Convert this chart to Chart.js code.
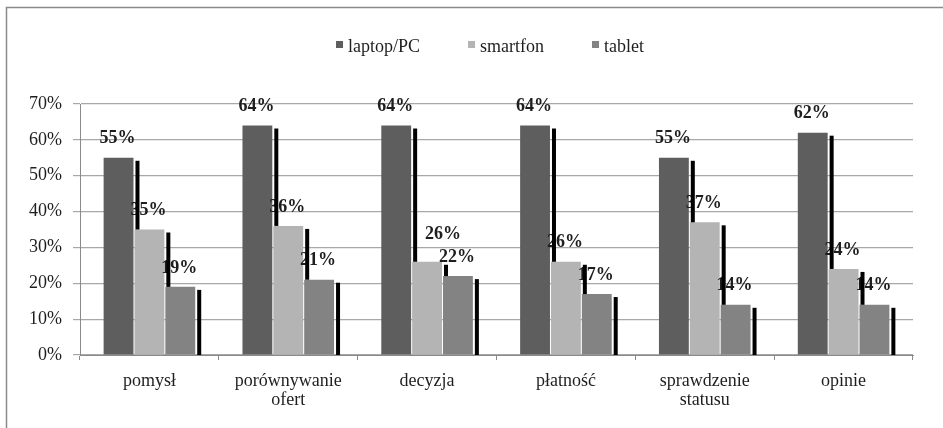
<!DOCTYPE html>
<html>
<head>
<meta charset="utf-8">
<script src="https://cdn.jsdelivr.net/npm/chart.js@4"></script>
<style>
  html, body { margin: 0; padding: 0; background: #fff; }
  #wrap { width: 943px; height: 428px; position: relative; }
</style>
</head>
<body>
<div id="wrap"><canvas id="c" width="943" height="428"></canvas></div>
<script>
const categories = ['pomysł', ['porównywanie', 'ofert'], 'decyzja', 'płatność', ['sprawdzenie', 'statusu'], 'opinie'];
const seriesNames = ['laptop/PC', 'smartfon', 'tablet'];
const laptopPC = [55, 64, 64, 64, 55, 62];
const smartfon = [35, 36, 26, 26, 37, 24];
const tablet = [19, 21, 22, 17, 14, 14];
const yTicks = [0, 10, 20, 30, 40, 50, 60, 70];

const colors = ['#5e5e5e', '#b4b4b4', '#838383'];
const SERIF = '"Liberation Serif", "Times New Roman", serif';
const TEXT = '#1e1e1e';

// small manual nudges of value labels (as in the original figure)
const labelNudge = { '1:2': { dx: 17, dy: -8 } };

const framePlugin = {
  id: 'frame',
  beforeDraw(chart) {
    const ctx = chart.ctx;
    ctx.save();
    ctx.fillStyle = '#fff';
    ctx.fillRect(0, 0, chart.width, chart.height);
    ctx.strokeStyle = '#8a8a8a';
    ctx.lineWidth = 1.5;
    ctx.beginPath();
    ctx.moveTo(6.5, chart.height);
    ctx.lineTo(6.5, 7.5);
    ctx.lineTo(chart.width, 7.5);
    ctx.stroke();
    ctx.restore();
  }
};

const legendPlugin = {
  id: 'customLegend',
  afterDraw(chart) {
    const ctx = chart.ctx;
    ctx.save();
    ctx.font = '18px ' + SERIF;
    const ds = chart.data.datasets;
    const box = 7, gapText = 12, gapItem = 48;
    const widths = ds.map(d => ctx.measureText(d.label).width);
    let total = 0;
    widths.forEach((w, i) => { total += gapText + w + (i < widths.length - 1 ? gapItem : 0); });
    let x = 490 - total / 2;
    const baseY = 52;
    ds.forEach((d, i) => {
      ctx.fillStyle = d.backgroundColor;
      ctx.fillRect(x, 41, box, box);
      ctx.fillStyle = TEXT;
      ctx.textAlign = 'left';
      ctx.textBaseline = 'alphabetic';
      ctx.fillText(d.label, x + gapText, baseY);
      x += gapText + widths[i] + gapItem;
    });
    ctx.restore();
  }
};

const labelsShadowPlugin = {
  id: 'labelsShadow',
  afterDatasetsDraw(chart) {
    const ctx = chart.ctx;
    const base = chart.scales.y.getPixelForValue(0);
    const n = chart.data.datasets.length;
    ctx.save();
    // value labels
    ctx.font = 'bold 18px ' + SERIF;
    ctx.fillStyle = TEXT;
    ctx.textAlign = 'center';
    ctx.textBaseline = 'middle';
    chart.data.datasets.forEach((ds, d) => {
      const meta = chart.getDatasetMeta(d);
      meta.data.forEach((el, i) => {
        const adj = labelNudge[d + ':' + i] || { dx: 0, dy: 0 };
        ctx.fillText(ds.data[i] + '%', el.x - 1 + adj.dx, el.y - 19 + adj.dy);
      });
    });
    // black side shadows
    ctx.fillStyle = '#000';
    chart.data.datasets.forEach((ds, d) => {
      const meta = chart.getDatasetMeta(d);
      const next = d + 1 < n ? chart.getDatasetMeta(d + 1) : null;
      meta.data.forEach((el, i) => {
        const right = el.x + el.width / 2;
        const x0 = right + 2, w = 4;
        const top = el.y + 3;
        let bottom = base;
        if (next) {
          const ne = next.data[i];
          if (x0 >= ne.x - ne.width / 2 - 1 && x0 + w <= ne.x + ne.width / 2 + 1) bottom = Math.min(bottom, ne.y);
        }
        if (bottom > top) ctx.fillRect(x0, top, w, bottom - top);
      });
    });
    ctx.restore();
  }
};

const seriesData = [laptopPC, smartfon, tablet];

new Chart(document.getElementById('c'), {
  type: 'bar',
  data: {
    labels: categories,
    datasets: seriesNames.map((name, i) => ({
      label: name,
      data: seriesData[i],
      backgroundColor: colors[i],
      borderWidth: 0,
      categoryPercentage: 0.667,
      barPercentage: 0.967
    }))
  },
  options: {
    responsive: false,
    animation: false,
    devicePixelRatio: 1,
    layout: { padding: { left: 10, right: 30, top: 104, bottom: 0 } },
    plugins: {
      legend: { display: false },
      tooltip: { enabled: false },
      title: { display: false }
    },
    scales: {
      x: {
        afterFit(s) { s.height = 73; },
        grid: { display: true, drawOnChartArea: false, tickLength: 5, color: '#8a8a8a', offset: true },
        border: { display: true, color: '#8a8a8a', width: 1 },
        ticks: {
          font: { family: SERIF, size: 18, lineHeight: 1.1 },
          color: TEXT,
          padding: 11,
          maxRotation: 0,
          autoSkip: false
        }
      },
      y: {
        min: 0,
        max: 70,
        afterFit(s) { s.width = 70; },
        afterBuildTicks(s) { s.ticks = yTicks.map(v => ({ value: v })); },
        grid: { color: '#a8a8a8', tickLength: 7, lineWidth: 1.2 },
        border: { display: true, color: '#8a8a8a', width: 1 },
        ticks: {
          font: { family: SERIF, size: 18 },
          color: TEXT,
          padding: 11,
          callback: v => v + '%'
        }
      }
    }
  },
  plugins: [framePlugin, labelsShadowPlugin, legendPlugin]
});
</script>
</body>
</html>
